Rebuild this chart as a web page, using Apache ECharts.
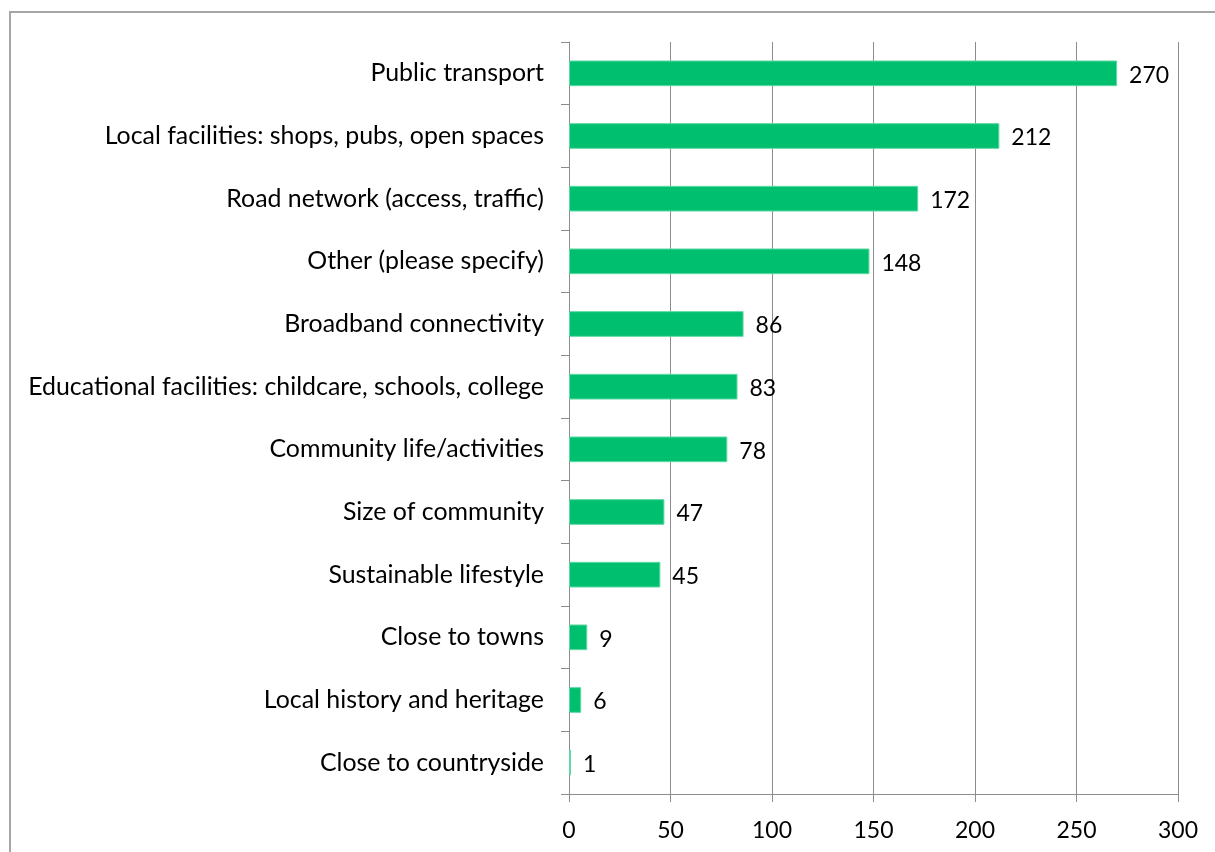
<!DOCTYPE html>
<html>
<head>
<meta charset="utf-8">
<script src="https://cdn.jsdelivr.net/npm/echarts@6/dist/echarts.min.js"></script>
<style>
    html, body { margin: 0; padding: 0; background: #fff; }
    #chart { width: 1215px; height: 852px; }
</style>
</head>
<body>
<div id="chart"></div>
<script>
    // categories listed top to bottom as in the picture
    var categories = [
        "Public transport",
        "Local facilities: shops, pubs, open spaces",
        "Road network (access, traffic)",
        "Other (please specify)",
        "Broadband connectivity",
        "Educational facilities: childcare, schools, college",
        "Community life/activities",
        "Size of community",
        "Sustainable lifestyle",
        "Close to towns",
        "Local history and heritage",
        "Close to countryside"
    ];
    var counts = [270, 212, 172, 148, 86, 83, 78, 47, 45, 9, 6, 1];
    var xTicks = [0, 50, 100, 150, 200, 250, 300];

    var font = 'Lato, "Open Sans", sans-serif';

    var chart = echarts.init(document.getElementById("chart"), null, {renderer: 'canvas'});
    chart.setOption({
        animation: false,
        graphic: [{
            type: 'polyline',
            shape: { points: [[10, 860], [10, 12], [1220, 12]] },
            style: { stroke: '#a6a6a6', lineWidth: 2, fill: null }
        }],
        grid: { left: 569, right: 37, top: 42, bottom: 58 },
        xAxis: {
            type: 'value',
            min: xTicks[0],
            max: xTicks[xTicks.length - 1],
            interval: 50,
            axisLine: { show: true, lineStyle: { color: '#8c8c8c', width: 1 } },
            axisTick: { show: true, length: 8, lineStyle: { color: '#8c8c8c' } },
            splitLine: { show: true, lineStyle: { color: '#8c8c8c', width: 1 } },
            axisLabel: { color: '#000', fontFamily: font, fontSize: 23, margin: 25 }
        },
        yAxis: {
            type: 'category',
            inverse: true,
            data: categories,
            axisLine: { show: true, lineStyle: { color: '#8c8c8c', width: 1 } },
            axisTick: { show: true, length: 8, lineStyle: { color: '#8c8c8c' } },
            axisLabel: { color: '#000', fontFamily: font, fontSize: 24.9, margin: 25 }
        },
        series: [{
            type: 'bar',
            data: counts,
            barCategoryGap: '59%',
            itemStyle: { color: '#00c06f', borderColor: '#5fd9a3', borderWidth: 1 },
            label: {
                show: true,
                position: 'right',
                distance: 12,
                offset: [0, 2],
                color: '#000',
                fontFamily: font,
                fontSize: 23
            }
        }]
    });
</script>
</body>
</html>
